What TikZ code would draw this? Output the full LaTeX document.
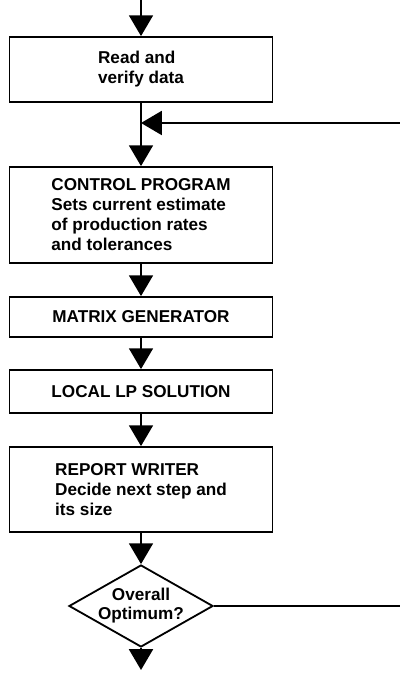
\documentclass[tikz,border=0pt]{standalone}
\usepackage{fontspec}
\setmainfont{Liberation Sans}
\usetikzlibrary{arrows.meta,shapes.geometric}

\begin{document}
\begin{tikzpicture}[font=\fontsize{12.2}{14.2}\selectfont\bfseries,
    >={Triangle[length=0.52cm,width=0.6cm]},x=1cm,y=1cm,line width=1.3pt,
    box/.style={draw,rectangle,align=left,minimum width=6.575cm,inner sep=0pt},
    test/.style={draw,diamond,minimum width=3.6cm,minimum height=2.05cm,inner sep=0pt}]
    \useasboundingbox (0,0) rectangle (10,16.975);

    \coordinate (start) at (3.525,16.975);
    \node[box,minimum height=1.625cm] (read) at (3.525,15.2375)
        {Read and\\verify data};
    \coordinate (merge) at (3.525,13.9);
    \coordinate (back) at (10,13.9);
    \node[box,minimum height=2.4cm] (control) at (3.525,11.6)
        {CONTROL PROGRAM\\Sets current estimate\\of production rates\\and tolerances};
    \node[box,minimum height=1.0cm] (matrix) at (3.525,9.05)
        {MATRIX GENERATOR};
    \node[box,minimum height=1.075cm] (local) at (3.525,7.1875)
        {LOCAL LP SOLUTION};
    \node[box,minimum height=2.125cm] (report) at (3.525,4.7375)
        {REPORT WRITER\\Decide next step and\\its size};
    \node[test] (opt) at (3.525,1.825)
        {\makebox[0pt]{\begin{tabular}{@{}c@{}}Overall\\Optimum?\end{tabular}}};
    \coordinate (out) at (10,1.825);
    \coordinate (stop) at (3.525,0.225);

    \draw[->] (start) -- (read);
    \draw[->] (read) -- (control);
    \draw[->] (back) -- (merge);
    \draw[->] (control) -- (matrix);
    \draw[->] (matrix) -- (local);
    \draw[->] (local) -- (report);
    \draw[->] (report) -- (opt);
    \draw (opt.east) -- (out);
    \draw[->] (opt) -- (stop);
\end{tikzpicture}
\end{document}
